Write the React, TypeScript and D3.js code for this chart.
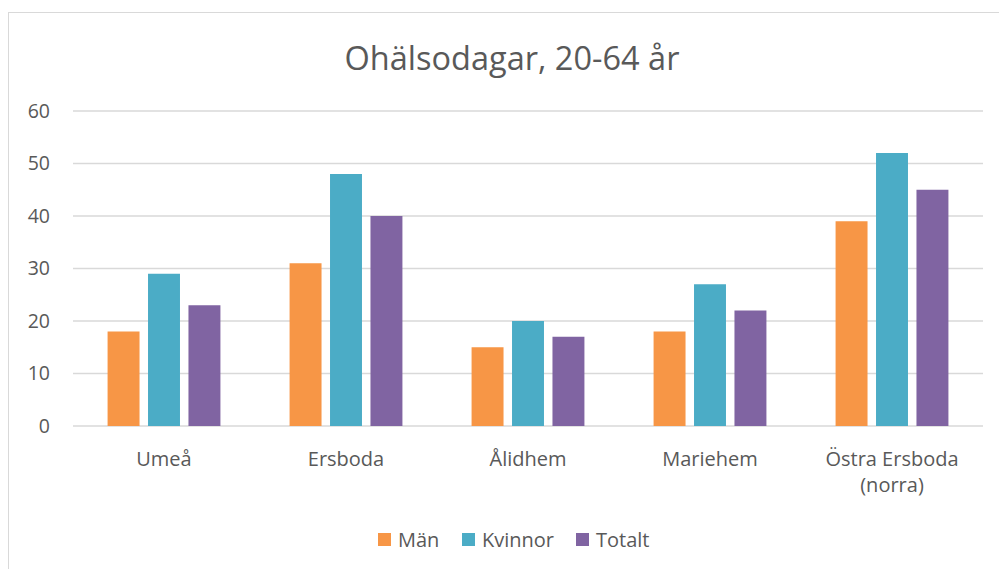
import React, { useEffect, useRef } from 'react';
import * as d3 from 'd3';

const categories = ['Umeå', 'Ersboda', 'Ålidhem', 'Mariehem', 'Östra Ersboda (norra)'];
const seriesNames = ['Män', 'Kvinnor', 'Totalt'];
const man = [18, 31, 15, 18, 39];
const kvinnor = [29, 48, 20, 27, 52];
const totalt = [23, 40, 17, 22, 45];
const yTicks = [0, 10, 20, 30, 40, 50, 60];
const colors = ['#F79646', '#4BACC6', '#8064A2'];

const width = 999;
const height = 569;
const font = '"Open Sans", sans-serif';

const App = () => {
    const svgRef = useRef<SVGSVGElement>(null);

    useEffect(() => {
        const svg = d3.select(svgRef.current);
        svg.selectAll('*').remove();

        const values = [man, kvinnor, totalt];
        const margin = { top: 111, right: 16, bottom: 143, left: 73 };
        const innerWidth = width - margin.left - margin.right;
        const innerHeight = height - margin.top - margin.bottom;

        svg.append('rect')
            .attr('x', 8.5).attr('y', 12.5)
            .attr('width', 1000).attr('height', 600)
            .attr('fill', 'white')
            .attr('stroke', '#d9d9d9');

        svg.append('text')
            .attr('x', 512)
            .attr('y', 70)
            .attr('text-anchor', 'middle')
            .style('font-family', font)
            .style('font-size', '32.5px')
            .attr('fill', '#595959')
            .text('Ohälsodagar, 20-64 år');

        const g = svg.append('g')
            .attr('transform', `translate(${margin.left},${margin.top})`);

        const x = d3.scaleBand().domain(categories).range([0, innerWidth]);
        const x1 = d3.scaleBand().domain(seriesNames)
            .range([0, x.bandwidth() * 0.62]).paddingInner(0.21);
        const offset = (x.bandwidth() - x.bandwidth() * 0.62) / 2;

        const y = d3.scaleLinear().domain([0, 60]).range([innerHeight, 0]);

        // gridlines
        g.selectAll('.grid')
            .data(yTicks)
            .enter()
            .append('line')
            .attr('x1', 0).attr('x2', innerWidth)
            .attr('y1', d => y(d)).attr('y2', d => y(d))
            .attr('stroke', '#d9d9d9')
            .attr('stroke-width', 1.3);

        // y labels
        g.selectAll('.ylab')
            .data(yTicks)
            .enter()
            .append('text')
            .attr('x', -23)
            .attr('y', d => y(d))
            .attr('dy', '0.35em')
            .attr('text-anchor', 'end')
            .style('font-family', font)
            .style('font-size', '19.5px')
            .attr('fill', '#595959')
            .text(d => d);

        // bars
        seriesNames.forEach((s, si) => {
            g.selectAll(`.bar${si}`)
                .data(values[si])
                .enter()
                .append('rect')
                .attr('x', (d, i) => x(categories[i])! + offset + x1(s)!)
                .attr('y', d => y(d))
                .attr('width', x1.bandwidth())
                .attr('height', d => innerHeight - y(d))
                .attr('fill', colors[si]);
        });

        // x labels
        categories.forEach(c => {
            const words = c.includes('(') ? [c.slice(0, c.indexOf('(')).trim(), c.slice(c.indexOf('('))] : [c];
            const t = g.append('text')
                .attr('x', x(c)! + x.bandwidth() / 2)
                .attr('y', innerHeight + 40)
                .attr('text-anchor', 'middle')
                .style('font-family', font)
                .style('font-size', '20px')
                .attr('fill', '#595959');
            words.forEach((w, i) => {
                t.append('tspan')
                    .attr('x', x(c)! + x.bandwidth() / 2)
                    .attr('dy', i === 0 ? 0 : 26)
                    .text(w);
            });
        });

        // legend
        const legendX = [378, 462, 576];
        const legend = svg.append('g');
        seriesNames.forEach((s, i) => {
            legend.append('rect')
                .attr('x', legendX[i]).attr('y', 533)
                .attr('width', 13).attr('height', 13)
                .attr('fill', colors[i]);
            legend.append('text')
                .attr('x', legendX[i] + 20)
                .attr('y', 547)
                .style('font-family', font)
                .style('font-size', '20px')
                .attr('fill', '#595959')
                .text(s);
        });
    }, []);

    return (
        <div style={{ position: 'absolute', left: 0, top: 0 }}>
            <svg ref={svgRef} width={width} height={height} style={{ display: 'block' }}></svg>
        </div>
    );
};

export default App;
